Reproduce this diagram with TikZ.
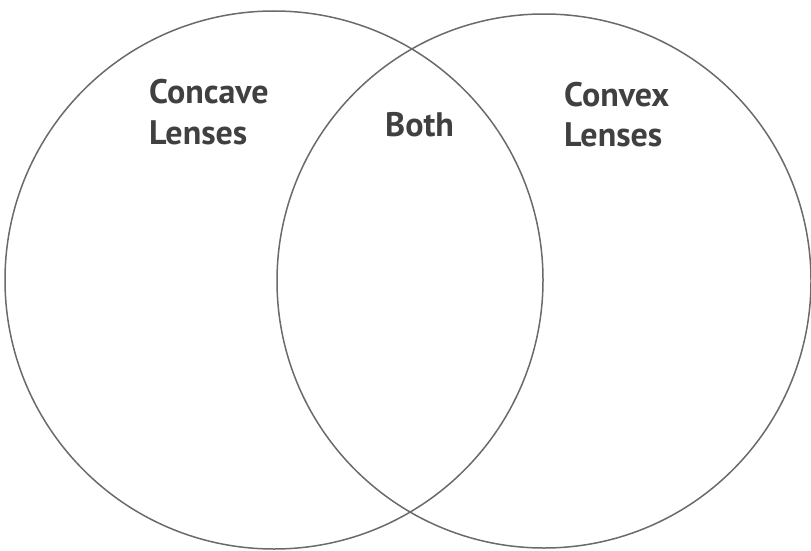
\documentclass[tikz,border=0pt]{standalone}
\usepackage{fontspec}
\setmainfont{PT Sans}
\definecolor{ringgray}{HTML}{6A6A6A}
\definecolor{textgray}{HTML}{404040}
\tikzset{
  ring/.style={draw=ringgray, line width=1.5pt},
  lbl/.style={anchor=base west, inner sep=0pt, text=textgray, font=\bfseries\fontsize{34}{40}\selectfont}
}
\begin{document}
\begin{tikzpicture}[x=1pt,y=-1pt]
\useasboundingbox (0,0) rectangle (811,551);
\draw[ring] (274,280) circle[radius=269];
\draw[ring] (544,281) circle[radius=267];
\node[lbl] (concave) at (149,103) {Concave};
\node[lbl] (lensesL) at (149,144) {Lenses};
\node[lbl] (both) at (385,136) {Both};
\node[lbl] (convex) at (564,106) {Convex};
\node[lbl] (lensesR) at (564,146) {Lenses};
\end{tikzpicture}
\end{document}
